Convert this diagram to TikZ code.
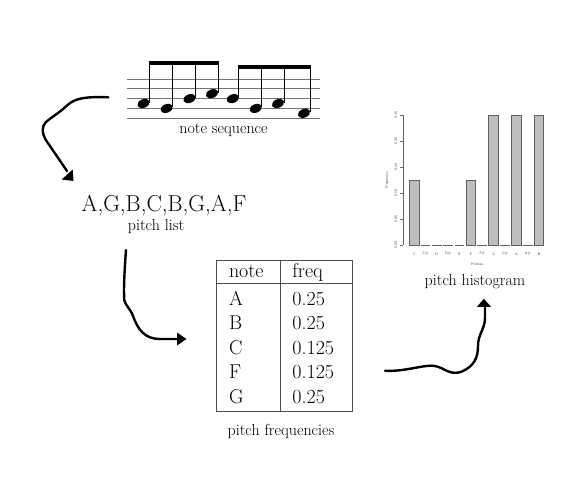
\documentclass[tikz,border=0pt]{standalone}
\usepackage{tikz}
\begin{document}
\begin{tikzpicture}[x=1pt,y=-1pt,
  caption/.style={font=\fontsize{16}{19}\selectfont, anchor=base, inner sep=0pt},
  tabtext/.style={font=\fontsize{20}{24}\selectfont, anchor=base west, inner sep=0pt},
  staffline/.style={draw=black!55, line width=0.7pt},
  stemline/.style={draw=black, line width=0.8pt},
  brush/.style={draw=black, line width=2.4pt, line cap=round, line join=round},
  tip/.style={fill=black},
  axislbl/.style={font=\fontsize{3.6}{4}\sffamily, text=black!75, inner sep=0pt},
  bar/.style={fill=barfill, draw=barline, line width=0.8pt},
  zerobar/.style={draw=barline, line width=0.8pt}
]
\definecolor{barfill}{RGB}{190,190,190}
\definecolor{barline}{RGB}{95,95,95}
\useasboundingbox (0,0) rectangle (582,477);

% ---------------- note sequence ----------------
\foreach \y in {79,88.8,98.6,108.4,118.2}
  \draw[staffline] (127,\y) -- (320,\y);
\foreach \hx/\hy/\by in {143.5/103.5/61, 166.7/108.4/61, 189.5/98.6/61, 212/93.7/61,
                          232.8/98.6/65, 255.8/108.4/65, 278/103.5/65, 304/113.3/65}{
  \fill (\hx,\hy) ellipse [x radius=6.4pt, y radius=4.3pt, rotate=22];
  \draw[stemline] (\hx+6,\hy-1) -- (\hx+6,\by);
}
\fill (149.6,61) rectangle (218.4,65);
\fill (238.4,65) rectangle (310.4,69);
\node[caption] (noteseq) at (223.5,133.3) {note sequence};

% ---------------- pitch list ----------------
\node[font=\fontsize{23}{27}\selectfont, anchor=base, inner sep=0pt] (plist) at (164,211) {A,G,B,C,B,G,A,F};
\node[caption] (plistcap) at (156,230) {pitch list};

% ---------------- table ----------------
\draw[line width=0.6pt, draw=black!70] (216,260) rectangle (352.7,411.5);
\draw[line width=0.6pt, draw=black!70] (280,260) -- (280,411.5);
\draw[line width=0.6pt, draw=black!70] (216,283.3) -- (352.7,283.3);
\node[tabtext] (hn) at (228.8,277.5) {note};
\node[tabtext] (hf) at (292.2,277.5) {freq};
\foreach \n/\f/\yy [count=\i] in {A/0.25/305.5, B/0.25/329.9, C/0.125/354.3, F/0.125/378.7, G/0.25/403.1}{
  \node[tabtext] (n\i) at (228.8,\yy) {\n};
  \node[tabtext] (f\i) at (292.2,\yy) {\f};
}
\node[caption] (freqcap) at (281,435) {pitch frequencies};

% ---------------- histogram ----------------
\foreach \lab/\h [count=\i from 0] in {C/0.125, C\#/0, D/0, D\#/0, E/0, F/0.125, F\#/0, G/0.25, G\#/0, A/0.25, A\#/0, B/0.25}{
  \pgfmathsetmacro{\xl}{409.3+11.36*\i}
  \pgfmathsetmacro{\xr}{\xl+9.6}
  \pgfmathsetmacro{\xc}{\xl+4.8}
  \pgfmathsetmacro{\yt}{245-520*\h}
  \ifdim \h pt>0pt
    \draw[bar] (\xl,245) rectangle (\xr,\yt);
  \else
    \draw[zerobar] (\xl,245) -- (\xr,245);
  \fi
  \node[axislbl] (xl\i) at (\xc,254) {\lab};
}
\draw[draw=black!60, line width=0.5pt] (403,115) -- (403,245);
\foreach \v/\yy in {0.00/245, 0.05/219, 0.10/193, 0.15/167, 0.20/141, 0.25/115}{
  \draw[draw=black!60, line width=0.5pt] (400,\yy) -- (403,\yy);
  \node[axislbl, rotate=90] at (396,\yy) {\v};
}
\node[axislbl, rotate=90] (ylab) at (387,180) {Frequency};
\node[axislbl] (xlab) at (477,264.5) {Pitches};
\node[caption] (histcap) at (475,285) {pitch histogram};

% ---------------- arrows ----------------
\coordinate (a1s) at (108.3,97.3);
\coordinate (a1e) at (67,171);
\draw[brush] (a1s) .. controls (86,96.5) and (75,98) .. (67,105.5)
  .. controls (59,113) and (51,117.5) .. (45.5,122.5)
  .. controls (41.5,127) and (42,133) .. (45.5,139.5) -- (a1e);
\fill[tip] (72.7,169.5) -- (61.7,179.5) -- (73.5,181) -- cycle;

\coordinate (a2s) at (126,250);
\coordinate (a2e) at (177,339);
\draw[brush] (a2s) .. controls (124.5,270) and (123.5,290) .. (124.3,300)
  .. controls (125,305) and (130,308) .. (133,316)
  .. controls (138,330) and (145,339) .. (160,339) -- (a2e);
\fill[tip] (177,332.5) -- (177,345.5) -- (186.5,339) -- cycle;

\coordinate (a3s) at (385,370.7);
\coordinate (a3e) at (485,307);
\draw[brush] (a3s) .. controls (405,372) and (425,364) .. (435,366)
  .. controls (445,368) and (450,376) .. (462,371.5)
  .. controls (474,366) and (478,358) .. (478,346)
  .. controls (478,334) and (485,329) .. (485,318) -- (a3e);
\fill[tip] (483.8,298.8) -- (477,306.8) -- (491,306.8) -- cycle;
\end{tikzpicture}
\end{document}
